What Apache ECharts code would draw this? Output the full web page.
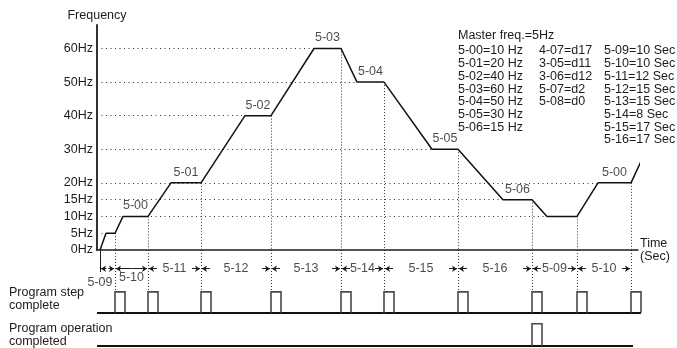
<!DOCTYPE html>
<html>
<head>
<meta charset="utf-8">
<script src="https://cdn.jsdelivr.net/npm/echarts@6/dist/echarts.min.js"></script>
<style>
  html, body { margin: 0; padding: 0; background: #fff; }
  #chart { width: 677px; height: 348px; }
</style>
</head>
<body>
<div id="chart"></div>
<script>
// Output frequency of the PLC program run: [schematic time, Hz]
const freqCurve = [
  [3, 0], [9, 5], [18, 5], [26, 10], [51, 10], [74, 20], [104, 20],
  [148, 40], [174, 40], [217, 60], [244, 60], [260, 50], [287, 50],
  [335, 30], [361, 30], [406, 15], [435, 15], [450, 10], [480, 10],
  [501, 20], [534, 20], [545, 27]
];
// Frequency levels marked on the vertical axis
const freqTicks = [0, 5, 10, 15, 20, 30, 40, 50, 60];
// Boundaries between program steps and the timer parameter of each step
const stepEdges = [3, 18, 51, 104, 174, 244, 287, 361, 435, 480, 534];
const stepNames = ['5-09', '5-10', '5-11', '5-12', '5-13', '5-14', '5-15', '5-16', '5-09', '5-10'];
// Names written over each constant-speed stretch, in order of appearance
const plateauNames = ['', '5-00', '5-01', '5-02', '5-03', '5-04', '5-05', '5-06', '', '5-00'];
// Step boundaries at which "program operation completed" is signalled
const opDoneEdges = [435];
// Parameter settings
const masterFreq = 'Master freq.=5Hz';
const speedParams = ['5-00=10 Hz', '5-01=20 Hz', '5-02=40 Hz', '5-03=60 Hz', '5-04=50 Hz', '5-05=30 Hz', '5-06=15 Hz'];
const modeParams = ['4-07=d17', '3-05=d11', '3-06=d12', '5-07=d2', '5-08=d0'];
const timeParams = ['5-09=10 Sec', '5-10=10 Sec', '5-11=12 Sec', '5-12=15 Sec', '5-13=15 Sec', '5-14=8 Sec', '5-15=17 Sec', '5-16=17 Sec'];

const FONT = '"Liberation Sans", Arial, Helvetica, sans-serif';
const INK = '#1c1c1c';
const FS = 12.5;

// Lower panel levels (panel units)
const OP_LOW = 0, OP_HIGH = 1, STEP_LOW = 1.5, STEP_HIGH = 2.45, DIM_ROW = 3.5, PANEL_TOP = 4.35;
const PULSE_W = 10;
const T_MAX = 541;

function freqAt(t) {
  for (let i = 0; i < freqCurve.length - 1; i++) {
    const [t0, f0] = freqCurve[i], [t1, f1] = freqCurve[i + 1];
    if (t >= t0 && t <= t1) return t1 === t0 ? f1 : f0 + (f1 - f0) * (t - t0) / (t1 - t0);
  }
  return 0;
}

// Dotted level guides run from the axis to the last plateau at that level
const levelGuides = freqTicks.filter(v => v > 0).map(v => {
  let end = 0;
  for (let i = 0; i < freqCurve.length - 1; i++) {
    if (freqCurve[i][1] === v && freqCurve[i + 1][1] === v) end = freqCurve[i][0];
  }
  return { coords: [[0, v], [end, v]] };
});

// Plateau mid points carry the step names
const plateauMarks = [];
for (let i = 0; i < freqCurve.length - 1; i++) {
  if (freqCurve[i][1] === freqCurve[i + 1][1] && freqCurve[i][1] > 0) {
    plateauMarks.push({
      value: [(freqCurve[i][0] + freqCurve[i + 1][0]) / 2, freqCurve[i][1]],
      name: plateauNames[plateauMarks.length] || ''
    });
  }
}

const innerEdges = stepEdges.slice(1);
const upperDrops = innerEdges.map(e => ({ coords: [[e, freqAt(e)], [e, 0]] }));
const lowerDrops = innerEdges.map(e => ({ coords: [[e, PANEL_TOP], [e, STEP_HIGH]] }));
const startTick = [{ coords: [[stepEdges[0], PANEL_TOP], [stepEdges[0], DIM_ROW - 0.15]] }];

const pulse = (e, lo, hi) => ({ coords: [[e, lo], [e, hi], [e + PULSE_W, hi], [e + PULSE_W, lo]] });
const stepPulses = innerEdges.map(e => pulse(e, STEP_LOW, STEP_HIGH));
const opPulses = opDoneEdges.map(e => pulse(e, OP_LOW, OP_HIGH));

// Dimension arrows and names for each step duration
const dimArrows = [], dimLabels = [];
stepNames.forEach((name, i) => {
  const a = stepEdges[i], b = stepEdges[i + 1], w = b - a;
  if (w < 20) {
    const L = w / 2 - 2;
    dimArrows.push({ coords: [[a + 1 + L, DIM_ROW], [a + 1, DIM_ROW]] });
    dimArrows.push({ coords: [[b - 1 - L, DIM_ROW], [b - 1, DIM_ROW]] });
    dimLabels.push({ value: [a, DIM_ROW - 0.65], name });
  } else if (w < 40) {
    const m = (a + b) / 2;
    dimArrows.push({ coords: [[m, DIM_ROW], [a + 1, DIM_ROW]] });
    dimArrows.push({ coords: [[m, DIM_ROW], [b - 1, DIM_ROW]] });
    dimLabels.push({ value: [m, DIM_ROW - 0.4], name });
  } else {
    const L = 8;
    dimArrows.push({ coords: [[a + 1 + L, DIM_ROW], [a + 1, DIM_ROW]] });
    dimArrows.push({ coords: [[b - 1 - L, DIM_ROW], [b - 1, DIM_ROW]] });
    dimLabels.push({ value: [(a + b) / 2, DIM_ROW], name });
  }
});

const textBase = { fontFamily: FONT, fontSize: FS, fill: INK };

const option = {
  animation: false,
  backgroundColor: '#fff',
  textStyle: { fontFamily: FONT },
  grid: [
    { left: 97, right: 677 - 97 - T_MAX, top: 25, bottom: 98 },
    { left: 97, right: 677 - 97 - T_MAX, top: 250, bottom: 0 }
  ],
  xAxis: [
    {
      gridIndex: 0, type: 'value', min: 0, max: T_MAX,
      axisLine: { show: true, lineStyle: { color: INK, width: 1.5 } },
      axisTick: { show: false }, axisLabel: { show: false }, splitLine: { show: false },
      name: 'Time\n(Sec)', nameLocation: 'end', nameGap: 2,
      nameTextStyle: { fontFamily: FONT, fontSize: FS, color: INK, align: 'left', verticalAlign: 'middle', lineHeight: 13 }
    },
    { gridIndex: 1, type: 'value', min: 0, max: T_MAX, show: false }
  ],
  yAxis: [
    {
      gridIndex: 0, type: 'value', min: 0, max: 67, interval: 5,
      axisLine: { show: true, lineStyle: { color: INK, width: 1.8 } },
      axisTick: { show: false }, splitLine: { show: false },
      axisLabel: {
        margin: 4, fontFamily: FONT, fontSize: FS, color: INK,
        formatter: v => freqTicks.includes(v) ? v + 'Hz' : ''
      },
      name: 'Frequency', nameLocation: 'end', nameGap: 3,
      nameTextStyle: { fontFamily: FONT, fontSize: FS, color: INK, align: 'center' }
    },
    { gridIndex: 1, type: 'value', min: -0.1, max: PANEL_TOP, show: false }
  ],
  series: [
    {
      type: 'lines', coordinateSystem: 'cartesian2d', xAxisIndex: 0, yAxisIndex: 0,
      clip: false, silent: true, symbol: 'none',
      lineStyle: { color: '#333', width: 1, type: [1, 3.5], opacity: 1 },
      data: levelGuides
    },
    {
      type: 'lines', coordinateSystem: 'cartesian2d', xAxisIndex: 0, yAxisIndex: 0,
      clip: false, silent: true, symbol: 'none',
      lineStyle: { color: '#333', width: 1, type: [1, 2], opacity: 1 },
      data: upperDrops
    },
    {
      type: 'lines', coordinateSystem: 'cartesian2d', xAxisIndex: 1, yAxisIndex: 1,
      clip: false, silent: true, symbol: 'none',
      lineStyle: { color: '#333', width: 1, type: [1, 2], opacity: 1 },
      data: lowerDrops
    },
    {
      type: 'lines', coordinateSystem: 'cartesian2d', xAxisIndex: 1, yAxisIndex: 1,
      clip: false, silent: true, symbol: 'none',
      lineStyle: { color: INK, width: 1, opacity: 1 },
      data: startTick
    },
    {
      type: 'line', xAxisIndex: 0, yAxisIndex: 0, data: freqCurve,
      showSymbol: false, clip: false, silent: true, z: 5,
      lineStyle: { color: '#111', width: 1.5 }
    },
    {
      type: 'scatter', xAxisIndex: 0, yAxisIndex: 0, data: plateauMarks,
      symbolSize: 0, silent: true, z: 6,
      label: {
        show: true, position: 'top', distance: 4, formatter: p => p.name,
        fontFamily: FONT, fontSize: FS, color: INK
      }
    },
    {
      type: 'lines', coordinateSystem: 'cartesian2d', xAxisIndex: 1, yAxisIndex: 1,
      clip: false, silent: true, symbol: ['none', 'arrow'], symbolSize: 5,
      lineStyle: { color: INK, width: 1, opacity: 1 },
      data: dimArrows
    },
    {
      type: 'scatter', xAxisIndex: 1, yAxisIndex: 1, data: dimLabels,
      symbolSize: 0, silent: true,
      label: {
        show: true, position: 'inside', formatter: p => p.name,
        fontFamily: FONT, fontSize: FS, color: INK
      }
    },
    {
      type: 'lines', coordinateSystem: 'cartesian2d', xAxisIndex: 1, yAxisIndex: 1,
      clip: false, silent: true, symbol: 'none',
      lineStyle: { color: '#111', width: 2, opacity: 1 },
      data: [
        { coords: [[0, STEP_LOW], [stepEdges[stepEdges.length - 1] + PULSE_W, STEP_LOW]] },
        { coords: [[0, OP_LOW], [T_MAX - 5, OP_LOW]] }
      ]
    },
    {
      type: 'lines', coordinateSystem: 'cartesian2d', xAxisIndex: 1, yAxisIndex: 1,
      polyline: true, clip: false, silent: true, symbol: 'none',
      lineStyle: { color: '#4a4a4a', width: 1.6, opacity: 1 },
      data: stepPulses.concat(opPulses)
    }
  ],
  graphic: [
    { type: 'text', left: 458, top: 29.5, style: Object.assign({}, textBase, { text: masterFreq }) },
    { type: 'text', left: 458, top: 44.5, style: Object.assign({}, textBase, { text: speedParams.join('\n'), lineHeight: 12.7 }) },
    { type: 'text', left: 539, top: 44.5, style: Object.assign({}, textBase, { text: modeParams.join('\n'), lineHeight: 12.7 }) },
    { type: 'text', left: 604, top: 44.5, style: Object.assign({}, textBase, { text: timeParams.join('\n'), lineHeight: 12.7 }) },
    { type: 'text', left: 9, top: 286.5, style: Object.assign({}, textBase, { text: 'Program step\ncomplete', lineHeight: 13 }) },
    { type: 'text', left: 9, top: 322.5, style: Object.assign({}, textBase, { text: 'Program operation\ncompleted', lineHeight: 13 }) }
  ]
};

const chart = echarts.init(document.getElementById('chart'), null, { renderer: 'canvas' });
chart.setOption(option);
</script>
</body>
</html>
